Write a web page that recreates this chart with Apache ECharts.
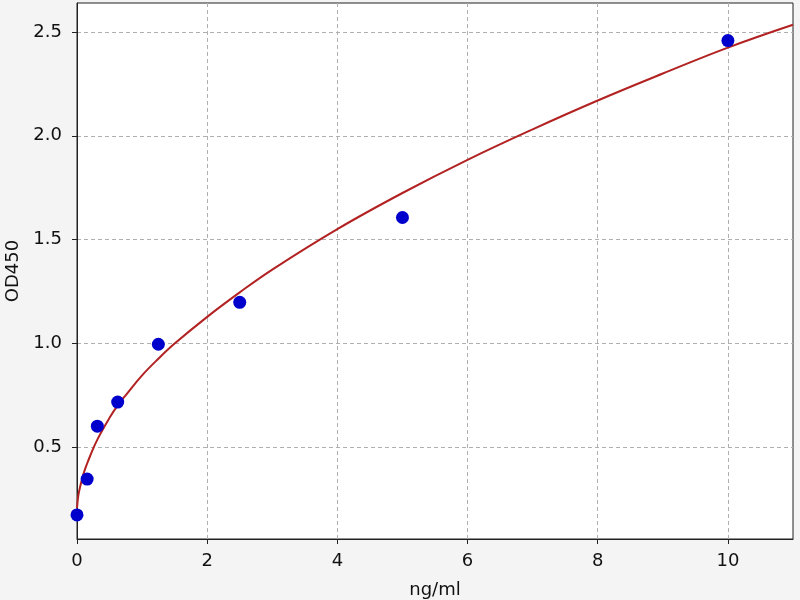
<!DOCTYPE html>
<html>
<head>
<meta charset="utf-8">
<script src="https://cdn.jsdelivr.net/npm/echarts@6/dist/echarts.min.js"></script>
<style>
  html, body { margin: 0; padding: 0; background: #f4f4f4; }
  #main { width: 800px; height: 600px; }
</style>
</head>
<body>
<div id="main"></div>
<script>
// 标准品浓度及OD值
var conc = [0, 0.156, 0.3125, 0.625, 1.25, 2.5, 5, 10];
var od = [0.172, 0.345, 0.600, 0.716, 0.995, 1.197, 1.606, 2.459];

// 拟合曲线
var fitX = [0, 0.02, 0.05, 0.1, 0.156, 0.2, 0.3125, 0.5, 0.625, 0.75, 1.0, 1.25, 1.5, 2.0, 2.5, 3.0, 4.0, 5.0, 6.0, 7.0, 8.0, 9.0, 10.0, 11.0];
var fitY = [0.205, 0.265, 0.31, 0.37, 0.42, 0.455, 0.535, 0.64, 0.70, 0.75, 0.845, 0.925, 0.998, 1.127, 1.245, 1.355, 1.55, 1.724, 1.884, 2.031, 2.17, 2.30, 2.425, 2.535];

// 刻度
var xTicks = [0, 2, 4, 6, 8, 10];
var yTicks = [0.5, 1.0, 1.5, 2.0, 2.5];

var myChart = echarts.init(document.getElementById('main'));

var pts = [];
for (var i = 0; i < conc.length; i++) {
  pts.push([conc[i], od[i]]);
}
var line = [];
for (var j = 0; j < fitX.length; j++) {
  line.push([fitX[j], fitY[j]]);
}

var txt = { color: '#111', fontSize: 18, fontFamily: 'DejaVu Sans' };

var option = {
  backgroundColor: '#f4f4f4',
  animation: false,
  grid: {
    left: 77, right: 7, top: 3, bottom: 61,
    outerBoundsMode: 'none',
    containLabel: false,
    show: true, backgroundColor: '#fff', borderColor: '#222', borderWidth: 1
  },
  xAxis: {
    type: 'value',
    min: 0,
    max: 11,
    name: 'ng/ml',
    nameLocation: 'middle',
    nameGap: 42,
    nameTextStyle: txt,
    axisLine: { lineStyle: { color: '#222' } },
    axisTick: { show: true, length: 5, customValues: xTicks, lineStyle: { color: '#222' } },
    axisLabel: Object.assign({ margin: 13, customValues: xTicks }, txt),
    splitLine: { show: true, lineStyle: { color: '#b0b0b0', type: [4, 3] } }
  },
  yAxis: {
    type: 'value',
    min: 0.056,
    max: 2.64,
    name: 'OD450',
    nameLocation: 'middle',
    nameGap: 55,
    nameTextStyle: txt,
    axisLine: { show: true, lineStyle: { color: '#222' } },
    axisTick: { show: true, length: 5, customValues: yTicks, lineStyle: { color: '#222' } },
    axisLabel: Object.assign({ margin: 15, customValues: yTicks, formatter: function (v) { return v.toFixed(1); } }, txt),
    splitLine: { show: true, lineStyle: { color: '#b0b0b0', type: [4, 3] } }
  },
  series: [
    {
      name: 'fit',
      type: 'line',
      data: line,
      smooth: 0.4,
      showSymbol: false,
      clip: true,
      lineStyle: { color: '#b22222', width: 2 },
      z: 2
    },
    {
      name: 'std',
      type: 'scatter',
      data: pts,
      symbolSize: 13,
      clip: false,
      itemStyle: { color: '#0000cc', opacity: 1 },
      z: 3
    }
  ]
};

myChart.setOption(option);
</script>
</body>
</html>
